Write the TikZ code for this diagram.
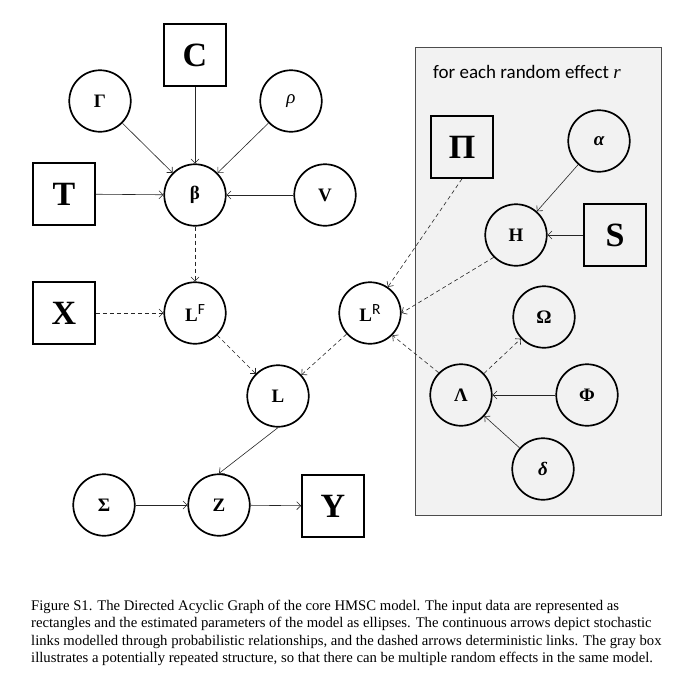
\documentclass[tikz,border=0pt]{standalone}
\usepackage{fontspec}
\setmainfont{Liberation Serif}
\newfontfamily\calfont{Carlito}
\usetikzlibrary{arrows.meta}
\newcommand{\supsc}[1]{\raisebox{6.5pt}{\calfont\mdseries\upshape\fontsize{15.5}{15.5}\selectfont #1}}
\begin{document}
\begin{tikzpicture}[x=1pt,y=-1pt,
 circ/.style={circle, draw, line width=1.7pt, minimum size=61.5pt, inner sep=0pt, font=\fontsize{19}{21}\selectfont\bfseries},
 sq/.style={rectangle, draw, line width=1.7pt, minimum size=62pt, inner sep=0pt, font=\fontsize{34}{36}\selectfont\bfseries},
 stoch/.style={-{Straight Barb[length=4pt,width=8pt]}, line width=0.6pt, draw=black!85},
 det/.style={stoch, dash pattern=on 4pt off 3pt},
 plate/.style={fill=gray!10, draw=black!70, line width=0.9pt},
 titletext/.style={anchor=base west, inner sep=0pt, font=\calfont\fontsize{19}{22}\selectfont},
 captext/.style={anchor=north west, align=left, inner sep=0pt, font=\fontsize{14.7}{17.3}\selectfont}
]
\useasboundingbox (0,0) rectangle (688,683);
\fill[white] (0,0) rectangle (688,683);
\draw[plate] (415,47) rectangle (661,515);
\node[titletext] (title) at (433,78) {for each random effect {\rmfamily\itshape r}};

\node[sq] (C) at (195,55) {C};
\node[circ] (Gamma) at (100,101) {Γ};
\node[circ] (rho) at (291,101) {\mdseries\itshape ρ};
\node[sq] (T) at (64,194) {T};
\node[circ] (beta) at (195,195) {β};
\node[circ] (V) at (325,195) {V};
\node[sq] (X) at (64,313) {X};
\node[circ] (LF) at (195,313) {L\supsc{F}};
\node[circ] (LR) at (370,313) {L\supsc{R}};
\node[circ] (L) at (278,396) {L};
\node[circ] (Sigma) at (104,505) {Σ};
\node[circ] (Z) at (219,505) {Z};
\node[sq] (Y) at (333,506) {Y};

\node[sq] (Pi) at (462,147) {Π};
\node[circ] (alpha) at (599,141) {\itshape α};
\node[circ] (H) at (516,235) {H};
\node[sq] (S) at (615,235) {S};
\node[circ] (Omega) at (544,317) {Ω};
\node[circ] (Lambda) at (461,395) {Λ};
\node[circ] (Phi) at (587,395) {Φ};
\node[circ] (delta) at (543,469) {\itshape δ};

\draw[stoch] (C) -- (beta);
\draw[stoch] (Gamma) -- (beta);
\draw[stoch] (rho) -- (beta);
\draw[stoch] (T) -- (beta);
\draw[stoch] (V) -- (beta);
\draw[det] (beta) -- (LF);
\draw[det] (X) -- (LF);
\draw[det] (LF) -- (L);
\draw[det] (LR) -- (L);
\draw[stoch] (L.south) -- (Z.north);
\draw[stoch] (Sigma) -- (Z);
\draw[stoch] (Z) -- (Y);
\draw[det] (Pi.south) -- (LR);
\draw[det] (H.225) -- (LR.east);
\draw[det] (Lambda.135) -- (LR.-45);
\draw[det] (Lambda) -- (Omega);
\draw[stoch] (alpha) -- (H);
\draw[stoch] (S) -- (H);
\draw[stoch] (Phi) -- (Lambda);
\draw[stoch] (delta) -- (Lambda);

\node[captext] (cap) at (31,600) {Figure S1. The Directed Acyclic Graph of the core HMSC model. The input data are represented as\\
rectangles and the estimated parameters of the model as ellipses. The continuous arrows depict stochastic\\
links modelled through probabilistic relationships, and the dashed arrows deterministic links. The gray box\\
illustrates a potentially repeated structure, so that there can be multiple random effects in the same model.};
\end{tikzpicture}
\end{document}
